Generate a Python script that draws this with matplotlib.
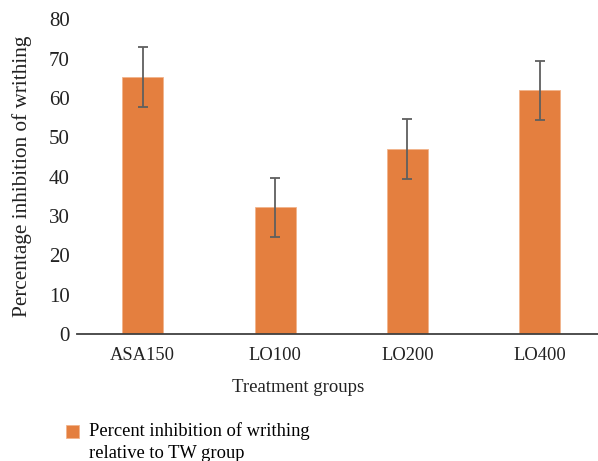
import matplotlib.pyplot as plt
import numpy as np

groups = ["ASA150", "LO100", "LO200", "LO400"]
inhibition = [65.3, 32.3, 47.1, 62.0]
errors = [7.6, 7.5, 7.6, 7.5]
series_label = "Percent inhibition of writhing\nrelative to TW group"

plt.rcParams['font.family'] = ['Liberation Serif', 'DejaVu Serif']

W, H = 598, 461
fig = plt.figure(figsize=(W / 100, H / 100), dpi=100)
# axes box in pixels: left 76.5, right 598, bottom 334, top 19.5
ax = fig.add_axes([76.5 / W, (H - 334) / H, (598 - 76.5) / W, (334 - 19.5) / H])

x = np.arange(len(groups))
ax.bar(x, inhibition, width=0.31, color='#E47F3F', edgecolor='#F2B48C',
       linewidth=0.6, label=series_label, zorder=2)
ax.errorbar(x, inhibition, yerr=errors, fmt='none', ecolor='#5F5F5F',
            elinewidth=1.3, capsize=3.3, capthick=1.3, zorder=3)

ax.set_xlim(-0.5, 3.44)
ax.set_ylim(0, 80)
ax.set_yticks(range(0, 81, 10))
ax.set_xticks(x)
ax.set_xticklabels(groups)

for s in ['top', 'right', 'left']:
    ax.spines[s].set_visible(False)
ax.spines['bottom'].set_color('#404040')
ax.spines['bottom'].set_linewidth(1.3)
ax.tick_params(axis='y', length=0, labelsize=15, colors='#222222', pad=5)
ax.tick_params(axis='x', length=0, labelsize=13.3, colors='#222222', pad=9)

ax.set_xlabel("Treatment groups", fontsize=13.5, color='#222222')
ax.xaxis.set_label_coords((298 - 76.5) / 521.5, -0.143)
ax.set_ylabel("Percentage inhibition of writhing", fontsize=15.3, color='#222222')
ax.yaxis.set_label_coords(-44 / 521.5, 0.5)

leg = fig.legend(loc='upper left', bbox_to_anchor=(66 / W, (H - 422) / H), frameon=False,
                 fontsize=13.3, handlelength=0.72, handleheight=0.72, handletextpad=0.55,
                 borderaxespad=0, borderpad=0, labelspacing=0)
for t in leg.get_texts():
    t.set_linespacing(1.4)
# square sits next to the first line in the original
p = leg.legend_handles[0]
p.set_y(p.get_y() + 7.5)

fig.savefig("out.png", dpi=100)
